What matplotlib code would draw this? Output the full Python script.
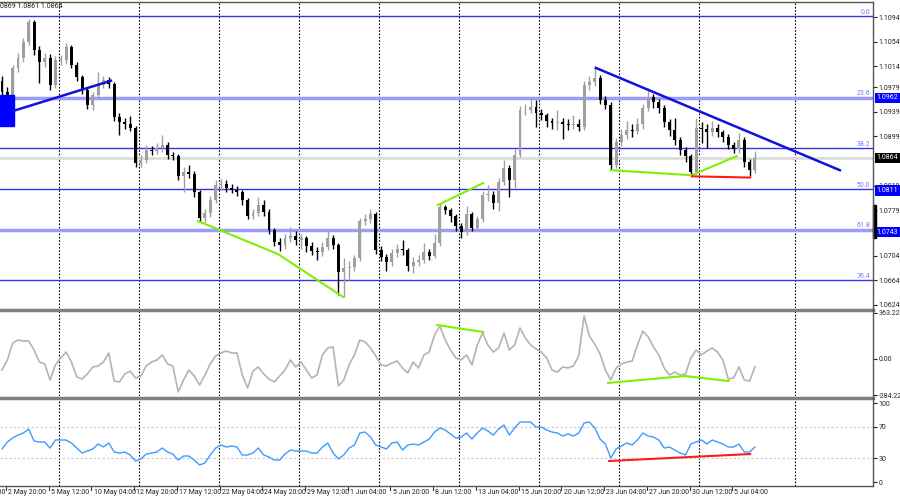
import numpy as np
import matplotlib
matplotlib.use('Agg')
import matplotlib.pyplot as plt
from matplotlib.lines import Line2D
from matplotlib.patches import Rectangle
from matplotlib.transforms import blended_transform_factory

plt.rcParams['font.family'] = ['Roboto', 'DejaVu Sans']

# ---- price bars (one entry per bar, oldest first) ----
first_open = 1.0990
close = [1.0972, 1.0959, 1.1011, 1.1027, 1.1053, 1.1086, 1.1040, 1.1021, 1.1027, 1.0983,
         1.1024, 1.1024, 1.1045, 1.1016, 1.0996, 1.0975, 1.0950, 1.0967, 1.0983, 1.0991,
         1.0985, 1.0931, 1.0923, 1.0919, 1.0913, 1.0856, 1.0861, 1.0877, 1.0875, 1.0880,
         1.0885, 1.0869, 1.0867, 1.0835, 1.0841, 1.0838, 1.0808, 1.0766, 1.0774, 1.0795,
         1.0820, 1.0821, 1.0815, 1.0812, 1.0808, 1.0795, 1.0769, 1.0774, 1.0787, 1.0776,
         1.0746, 1.0727, 1.0722, 1.0733, 1.0737, 1.0730, 1.0733, 1.0720, 1.0712, 1.0710,
         1.0719, 1.0733, 1.0722, 1.0678, 1.0684, 1.0686, 1.0701, 1.0761, 1.0764, 1.0772,
         1.0714, 1.0702, 1.0694, 1.0709, 1.0715, 1.0714, 1.0688, 1.0694, 1.0697, 1.0710,
         1.0704, 1.0725, 1.0784, 1.0779, 1.0769, 1.0753, 1.0743, 1.0772, 1.0750, 1.0764,
         1.0804, 1.0804, 1.0790, 1.0825, 1.0848, 1.0828, 1.0869, 1.0942, 1.0942, 1.0947,
         1.0937, 1.0934, 1.0924, 1.0921, 1.0923, 1.0919, 1.0918, 1.0919, 1.0915, 1.0983,
         1.0988, 1.0994, 1.0959, 1.0950, 1.0853, 1.0890, 1.0901, 1.0910, 1.0908, 1.0919,
         1.0946, 1.0963, 1.0955, 1.0946, 1.0923, 1.0910, 1.0893, 1.0877, 1.0867, 1.0841,
         1.0913, 1.0911, 1.0906, 1.0913, 1.0906, 1.0898, 1.0885, 1.0879, 1.0893, 1.0857,
         1.0844, 1.0864]
high = [1.0998, 1.0980, 1.1016, 1.1035, 1.1060, 1.1091, 1.1089, 1.1046, 1.1035, 1.1033,
        1.1030, 1.1032, 1.1052, 1.1049, 1.1020, 1.1000, 1.0978, 1.0972, 1.1004, 1.0997,
        1.0996, 1.0988, 1.0937, 1.0930, 1.0932, 1.0916, 1.0868, 1.0885, 1.0884, 1.0889,
        1.0901, 1.0890, 1.0874, 1.0870, 1.0850, 1.0852, 1.0842, 1.0812, 1.0780, 1.0802,
        1.0828, 1.0830, 1.0828, 1.0822, 1.0818, 1.0812, 1.0798, 1.0781, 1.0800, 1.0795,
        1.0780, 1.0750, 1.0733, 1.0740, 1.0752, 1.0745, 1.0740, 1.0737, 1.0726, 1.0718,
        1.0726, 1.0746, 1.0738, 1.0725, 1.0700, 1.0695, 1.0706, 1.0766, 1.0772, 1.0780,
        1.0776, 1.0720, 1.0708, 1.0716, 1.0724, 1.0730, 1.0717, 1.0702, 1.0706, 1.0725,
        1.0716, 1.0740, 1.0790, 1.0788, 1.0783, 1.0773, 1.0758, 1.0785, 1.0775, 1.0770,
        1.0810, 1.0820, 1.0810, 1.0832, 1.0861, 1.0852, 1.0878, 1.0948, 1.0952, 1.0963,
        1.0958, 1.0944, 1.0938, 1.0930, 1.0943, 1.0930, 1.0928, 1.0934, 1.0927, 1.0990,
        1.0998, 1.1011, 1.1000, 1.0965, 1.0955, 1.0896, 1.0912, 1.0925, 1.0920, 1.0930,
        1.0952, 1.0978, 1.0968, 1.0960, 1.0950, 1.0928, 1.0930, 1.0898, 1.0882, 1.0870,
        1.0930, 1.0922, 1.0920, 1.0925, 1.0920, 1.0910, 1.0903, 1.0890, 1.0905, 1.0898,
        1.0862, 1.0875]
low = [1.0960, 1.0943, 1.0955, 1.1004, 1.1020, 1.1048, 1.1032, 1.0986, 1.1012, 1.0975,
       1.0978, 1.1015, 1.1018, 1.1010, 1.0990, 1.0968, 1.0944, 1.0942, 1.0962, 1.0978,
       1.0978, 1.0925, 1.0901, 1.0912, 1.0908, 1.0850, 1.0849, 1.0856, 1.0868, 1.0870,
       1.0874, 1.0862, 1.0860, 1.0828, 1.0808, 1.0832, 1.0800, 1.0759, 1.0760, 1.0768,
       1.0790, 1.0812, 1.0808, 1.0806, 1.0802, 1.0788, 1.0764, 1.0765, 1.0770, 1.0770,
       1.0740, 1.0720, 1.0712, 1.0716, 1.0727, 1.0722, 1.0715, 1.0710, 1.0705, 1.0698,
       1.0704, 1.0714, 1.0716, 1.0640, 1.0637, 1.0665, 1.0680, 1.0696, 1.0755, 1.0758,
       1.0708, 1.0695, 1.0680, 1.0688, 1.0703, 1.0706, 1.0679, 1.0676, 1.0688, 1.0693,
       1.0698, 1.0700, 1.0720, 1.0772, 1.0760, 1.0745, 1.0734, 1.0738, 1.0744, 1.0744,
       1.0760, 1.0793, 1.0780, 1.0778, 1.0820, 1.0800, 1.0815, 1.0865, 1.0934, 1.0938,
       1.0915, 1.0926, 1.0915, 1.0912, 1.0910, 1.0895, 1.0910, 1.0912, 1.0908, 1.0910,
       1.0975, 1.0982, 1.0952, 1.0944, 1.0844, 1.0848, 1.0884, 1.0895, 1.0898, 1.0903,
       1.0912, 1.0940, 1.0945, 1.0938, 1.0915, 1.0900, 1.0885, 1.0868, 1.0858, 1.0836,
       1.0838, 1.0888, 1.0880, 1.0900, 1.0898, 1.0890, 1.0878, 1.0872, 1.0872, 1.0850,
       1.0834, 1.0840]

# ---- oscillators ----
cci = [-87, -8, 126, 150, 142, 142, 71, -24, -39, -166,
       -47, 8, 55, -24, -142, -158, -118, -63, -55, -24,
       47, -174, -181, -118, -95, -150, -134, -55, -24, -8,
       32, -39, -55, -260, -166, -87, -134, -205, -126, -39,
       24, 47, 63, 47, 47, -126, -229, -95, -63, -118,
       -158, -181, -134, -87, -8, -63, -24, -87, -150, -126,
       32, 87, 95, -213, -166, -47, 32, 150, 134, 87,
       24, -47, -55, -32, -16, -71, -110, -24, -71, 32,
       55, 189, 260, 150, 71, 8, -8, 32, -47, 110,
       205, 110, 55, 87, 205, 71, 110, 245, 166, 110,
       79, 55, 8, -87, -103, -63, -71, -55, 24, 339,
       181, 118, 39, -87, -166, -71, -39, -24, -16, 110,
       221, 174, 95, 32, -71, -126, -103, -126, -118, 8,
       71, 32, 63, 87, 55, -8, -158, -150, -63, -166,
       -174, -63]
rsi = [41.8, 50.6, 55.7, 59.5, 62.0, 67.1, 51.9, 50.6, 50.6, 43.0,
       53.2, 53.2, 53.2, 49.4, 43.0, 36.7, 39.2, 41.8, 48.1, 44.3,
       49.4, 38.0, 36.7, 38.0, 34.2, 26.6, 29.1, 35.4, 36.7, 38.0,
       43.0, 38.0, 35.4, 27.8, 32.9, 32.9, 27.8, 21.5, 24.1, 34.2,
       43.0, 46.8, 44.3, 45.6, 44.3, 34.2, 34.2, 36.7, 43.0, 34.2,
       31.6, 27.8, 27.8, 35.4, 40.5, 39.2, 39.2, 39.2, 36.7, 36.7,
       44.3, 49.4, 36.7, 29.1, 34.2, 43.0, 46.8, 62.0, 63.3, 57.0,
       46.8, 44.3, 41.8, 49.4, 50.6, 40.5, 46.8, 48.1, 46.8, 50.6,
       54.4, 63.3, 68.4, 65.8, 60.8, 55.7, 57.0, 62.0, 54.4, 62.0,
       68.4, 64.6, 59.5, 67.1, 72.2, 59.5, 68.4, 75.9, 75.9, 75.9,
       69.6, 69.6, 65.8, 63.3, 62.0, 58.2, 60.8, 58.2, 62.0, 74.7,
       75.9, 68.4, 54.4, 48.1, 30.4, 41.8, 45.6, 49.4, 46.8, 53.2,
       62.0, 58.2, 57.0, 53.2, 43.0, 44.3, 40.5, 36.7, 34.2, 48.1,
       50.6, 53.2, 48.1, 53.2, 50.6, 48.1, 44.3, 44.3, 48.1, 38.0,
       38.0, 44.3]

# ---- levels, drawings and labels ----
current_price = 1.0864
fib_high = 1.1095
fib_low = 1.0531
fib_levels = [0.0, 23.6, 38.2, 50.0, 61.8, 76.4]
fib_strong = [23.6, 61.8]
price_ticks = [1.1094, 1.1054, 1.1014, 1.0979, 1.0939, 1.0899,
               1.0819, 1.0779, 1.0704, 1.0664, 1.0624]
boxed_prices = [1.0962, 1.0864, 1.0811, 1.0743]
boxed_colors = ['#0000ff', '#000000', '#0000ff', '#0000ff']

box_bars = [-0.4, 2.2]
box_prices = [1.0916, 1.0967]
blue_up = ([2.2, 20.4], [1.0941, 1.0990])
blue_down = ([111.2, 156.9], [1.1011, 1.0844])
green_price = [([36.7, 51.7, 63.9], [1.0761, 1.0707, 1.0637]),
               ([81.6, 90.1], [1.0787, 1.0823]),
               ([114.0, 128.7], [1.0844, 1.0836]),
               ([129.2, 137.6], [1.0836, 1.0867])]
red_price = ([129.2, 140.1], [1.0834, 1.0832])
green_cci = [([81.5, 90.1], [268, 213]),
             ([113.5, 127.9, 136.1], [-189, -134, -174])]
red_rsi = ([113.7, 140.1], [26.6, 35.4])
axis_marker = [1.0733, 1.0787]

cci_ticks = [363.2239, 0.0, -284.224]
cci_tick_labels = ['363.2239', '0.00', '-284.224']
rsi_ticks = [100, 70, 30, 0]

time_labels = ['28 Apr 04:00', '2 May 20:00', '5 May 12:00', '10 May 04:00', '12 May 20:00',
               '17 May 12:00', '22 May 04:00', '24 May 20:00', '29 May 12:00', '1 Jun 04:00',
               '5 Jun 20:00', '8 Jun 12:00', '13 Jun 04:00', '15 Jun 20:00', '20 Jun 12:00',
               '23 Jun 04:00', '27 Jun 20:00', '30 Jun 12:00', '5 Jul 04:00']
time_label_bars = [-7.2, 0.75, 8.75, 16.75, 24.75, 32.75, 40.75, 48.75, 56.75, 64.75,
                   72.75, 80.75, 88.75, 96.75, 104.75, 112.75, 120.75, 128.75, 136.75]

# ---- layout (pixels of a 900x500 canvas) ----
W, H = 900, 500
PLOT_RIGHT = 873
X0_PX, BAR_PX = 2.0, 5.34
GRID_PX = [59, 139, 219, 299, 379, 459, 539, 619, 699, 795]
FS = 5


def px2bar(px):
    return (px - X0_PX) / BAR_PX


def panel(top, bottom):
    return fig.add_axes([0, 1 - bottom / H, PLOT_RIGHT / W, (bottom - top) / H])


fig = plt.figure(figsize=(9, 5), dpi=100)
fig.patch.set_facecolor('white')

ax = panel(2, 308)
ax_cci = panel(311, 396)
ax_rsi = panel(399, 486)

ax.set_ylim(1.06191, 1.11185)
ax_cci.set_ylim(-292, 378.7)
ax_rsi.set_ylim(-5.06, 105.1)

for a in (ax, ax_cci, ax_rsi):
    a.set_xlim(px2bar(0), px2bar(PLOT_RIGHT))
    for s in a.spines.values():
        s.set_visible(False)
    a.yaxis.tick_right()
    a.tick_params(axis='y', length=3, width=0.8, pad=1.0, labelsize=FS, colors='#222222')
    a.set_xticks([])
    for g in GRID_PX:
        a.axvline(px2bar(g), color='#000000', lw=0.8, ls=(0, (1.5, 1.5)), zorder=0)

# ---- main price panel ----
bars = np.arange(len(close))
c = np.array(close)
o = np.r_[first_open, c[:-1]]
h = np.array(high)
l = np.array(low)
up = c >= o
cols = np.where(up, '#a0a0a0', '#000000')

ax.axhline(current_price, color='#dcdcdc', lw=2, zorder=1)
for lev in fib_levels:
    p = fib_high - (fib_high - fib_low) * lev / 100
    if lev in fib_strong:
        ax.axhline(p, color='#9a9aff', lw=2.5, zorder=1)
    else:
        ax.axhline(p, color='#3333ee', lw=1, zorder=1)
    ax.text(px2bar(870), p + 0.0001, f'{lev:.1f}', ha='right', va='bottom',
            fontsize=FS, color='#7777ff', zorder=5)

ax.vlines(bars, l, h, colors=cols, lw=1, zorder=3)
ax.bar(bars, np.maximum(np.abs(c - o), 0.00008), bottom=np.minimum(o, c),
       width=0.55, color=cols, linewidth=0, zorder=3)

ax.add_patch(Rectangle((box_bars[0], box_prices[0]), box_bars[1] - box_bars[0],
                       box_prices[1] - box_prices[0], color='#0000ff', zorder=4))
ax.plot(*blue_up, color='#1010e0', lw=1.8, zorder=4)
ax.plot(*blue_down, color='#1010e0', lw=1.8, zorder=4)
for xs, ys in green_price:
    ax.plot(xs, ys, color='#80f000', lw=1.5, zorder=4)
ax.plot(*red_price, color='#ff1a1a', lw=1.5, zorder=4)

ax.set_yticks(price_ticks)
ax.set_yticklabels([f'{p:.4f}' for p in price_ticks])
for p, col in zip(boxed_prices, boxed_colors):
    ax.annotate(f'{p:.4f}', xy=(1, p), xycoords=('axes fraction', 'data'),
                xytext=(2.4, 0), textcoords='offset points', ha='left', va='center',
                fontsize=FS, color='white', annotation_clip=False,
                bbox=dict(boxstyle='square,pad=0.25', fc=col, ec='none'))
ax.add_patch(Rectangle((1.0, axis_marker[0]), 3 / PLOT_RIGHT, axis_marker[1] - axis_marker[0],
                       transform=blended_transform_factory(ax.transAxes, ax.transData),
                       color='black', clip_on=False, zorder=6))

# ---- CCI panel ----
ax_cci.plot(bars, cci, color='#b4b4b4', lw=1.2, zorder=2)
for xs, ys in green_cci:
    ax_cci.plot(xs, ys, color='#80f000', lw=1.5, zorder=3)
ax_cci.set_yticks(cci_ticks)
ax_cci.set_yticklabels(cci_tick_labels)

# ---- RSI panel ----
for lv in (70, 30):
    ax_rsi.axhline(lv, color='#c8c8c8', lw=0.8, ls=(0, (2, 2)), zorder=0)
ax_rsi.plot(bars, rsi, color='#3d9bff', lw=1, zorder=2)
ax_rsi.plot(*red_rsi, color='#ff1a1a', lw=1.5, zorder=3)
ax_rsi.set_yticks(rsi_ticks)
ax_rsi.set_yticklabels([str(t) for t in rsi_ticks])

# time axis
tr = blended_transform_factory(ax_rsi.transData, fig.transFigure)
for lab, b in zip(time_labels, time_label_bars):
    ax_rsi.text(b + 0.4, 1 - 492 / H, lab, transform=tr, ha='left', va='center',
                fontsize=FS, color='#222222', clip_on=False)
    ax_rsi.add_line(Line2D([b, b], [1 - 486 / H, 1 - 490 / H], transform=tr,
                           color='#333333', lw=0.8, clip_on=False))

# frame / panel separators
fig.add_artist(Line2D([0, PLOT_RIGHT / W], [1 - 1.5 / H] * 2, color='#555555', lw=1))
fig.add_artist(Line2D([0, PLOT_RIGHT / W], [1 - 309.5 / H] * 2, color='#808080', lw=2.5))
fig.add_artist(Line2D([0, PLOT_RIGHT / W], [1 - 397.5 / H] * 2, color='#808080', lw=2.5))
fig.add_artist(Line2D([0, PLOT_RIGHT / W], [1 - 486 / H] * 2, color='#555555', lw=1))
fig.add_artist(Line2D([PLOT_RIGHT / W] * 2, [1 - 486 / H, 1 - 1.5 / H], color='#555555', lw=1))

fig.text(0.0, 1 - 6 / H, '0869 1.0861 1.0864', ha='left', va='center', fontsize=FS,
         color='#222222')

fig.savefig('out.png', dpi=100, facecolor='white')
